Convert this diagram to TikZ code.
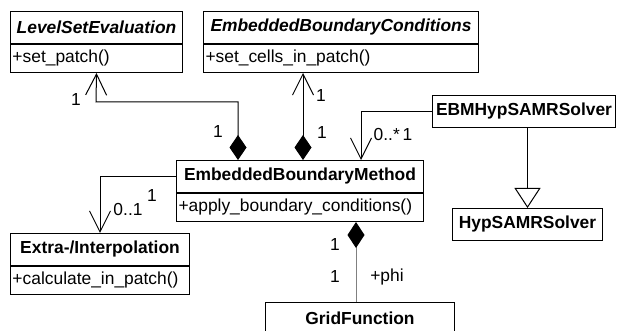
\documentclass[tikz,border=0pt]{standalone}
\usepackage{fontspec}
\setmainfont{Liberation Sans}
\usepackage{tikz}
\usetikzlibrary{arrows.meta, positioning}

\begin{document}
\begin{tikzpicture}[
    x=1pt, y=-1pt,
    line width=1pt,
    every node/.style={font=\fontsize{17.4}{20}\selectfont},
    head/.style={draw, minimum width=#1, minimum height=32pt, inner sep=2pt,
                 font=\fontsize{17.4}{20}\selectfont\bfseries},
    body/.style={draw, text width=#1, minimum height=28pt, inner sep=2pt, align=left},
    comp/.style={{Diamond[length=25pt,width=17pt]}-{Straight Barb[length=21pt,width=21pt]}},
    assoc/.style={-{Straight Barb[length=21pt,width=21pt]}},
    gen/.style={-{Triangle[open,length=20pt,width=26pt,fill=white]}},
    mult/.style={inner sep=0pt}
]
\useasboundingbox (0,0) rectangle (622,331);

% classes
\node[head=172pt, anchor=north west] (lse) at (10,11) {\itshape LevelSetEvaluation};
\node[body=168pt, below=0pt of lse] (lsebody) {+set\_patch()};

\node[head=275pt, anchor=north west] (ebc) at (203,11) {\itshape EmbeddedBoundaryConditions};
\node[body=271pt, below=0pt of ebc] (ebcbody) {+set\_cells\_in\_patch()};

\node[head=247pt, anchor=north west] (ebm) at (176,160) {EmbeddedBoundaryMethod};
\node[body=243pt, below=0pt of ebm] (ebmbody) {+apply\_boundary\_conditions()};

\node[head=179pt, anchor=north west] (extra) at (10,233) {Extra-/Interpolation};
\node[body=175pt, below=0pt of extra] (extrabody) {+calculate\_in\_patch()};

\node[head=189pt, anchor=north west] (grid) at (265,302) {GridFunction};

\node[head=183pt, anchor=north west] (ebmhyp) at (432,95) {EBMHypSAMRSolver};
\node[head=150pt, anchor=north west] (hyp) at (452,208) {HypSAMRSolver};

% relations
\draw[comp] ([xshift=62pt]ebm.north west) |- ++(-142pt,58pt) -- (lsebody.south);
\draw[comp] ([xshift=127pt]ebm.north west) -- ([xshift=100pt]ebcbody.south west);
\draw[assoc] (ebmhyp.west) -| ([xshift=185pt]ebm.north west);
\draw[assoc] (ebm.west) -| (extra.north);
\draw[gray, {Diamond[length=26pt,width=17pt,black]}-] ([xshift=180pt]ebmbody.south west) coordinate (gfstart)
    -- (gfstart |- grid.north);
\draw[gen] (ebmhyp.south -| hyp.north) -- (hyp.north);

% multiplicities
\node[mult] (m1) at (76,100) {1};
\node[mult] (m2) at (218,132) {1};
\node[mult] (m3) at (321,96) {1};
\node[mult] (m4) at (322,133) {1};
\node[mult] (m5) at (393,135) {0..*\,1};
\node[mult] (m6) at (128,210) {0..1};
\node[mult] (m7) at (152,196) {1};
\node[mult] (m8) at (335,245) {1};
\node[mult] (m9) at (335,277) {1};
\node[mult] (phi) at (387,277) {+phi};
\end{tikzpicture}
\end{document}
